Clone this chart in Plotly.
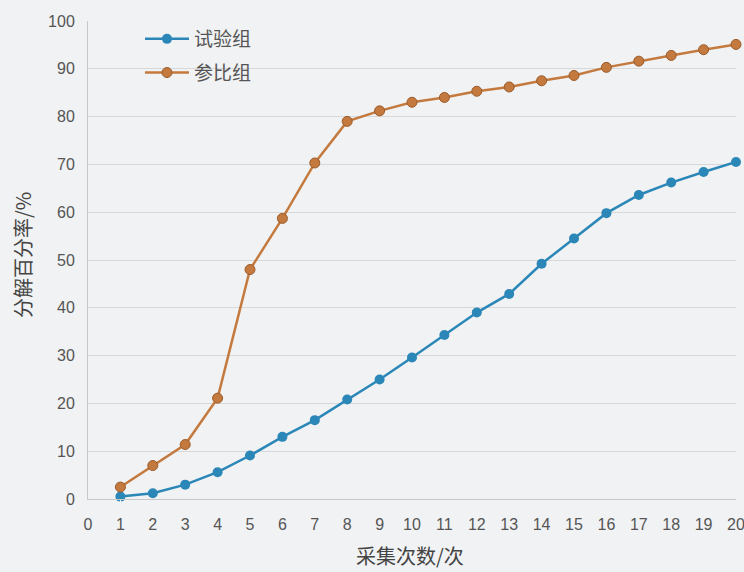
import plotly.graph_objects as go

x_vals = list(range(1, 21))
test_group = [0.5, 1.2, 3.0, 5.6, 9.1, 13.0, 16.5, 20.8, 25.0, 29.6,
              34.3, 39.0, 42.9, 49.2, 54.5, 59.8, 63.6, 66.2, 68.4, 70.5]
ref_group = [2.5, 7.0, 11.4, 21.1, 48.0, 58.7, 70.3, 79.0, 81.2, 83.0,
             84.0, 85.3, 86.2, 87.5, 88.6, 90.3, 91.6, 92.8, 94.0, 95.1]
x_ticks = list(range(0, 21))
y_ticks = list(range(0, 101, 10))

blue = "#2b87b8"
orange = "#c47a3e"
bg = "#f1f2f3"
font = "Noto Sans CJK SC"

fig = go.Figure()
fig.add_trace(go.Scatter(x=x_vals, y=test_group, name="试验组", mode="lines+markers",
                         line=dict(color=blue, width=2.5),
                         marker=dict(color=blue, size=10),
                         legendgroup="a", cliponaxis=False))
fig.add_trace(go.Scatter(x=x_vals, y=ref_group, name="参比组", mode="lines+markers",
                         line=dict(color=orange, width=2.5),
                         marker=dict(color=orange, size=10, line=dict(color="#9a5a2a", width=1)),
                         legendgroup="b", cliponaxis=False))

ml, mr, mt, mb = 88, 8, 21, 73
pw = 744 - ml - mr
ph = 572 - mt - mb

fig.update_layout(
    width=744, height=572,
    margin=dict(l=ml, r=mr, t=mt, b=mb, pad=0, autoexpand=False),
    paper_bgcolor=bg, plot_bgcolor=bg,
    font=dict(family=font, color="#555555", size=14),
    showlegend=True,
    legend=dict(x=(140 - ml) / pw, y=(572 - mb - 20) / ph, xanchor="left", yanchor="top",
                bgcolor="rgba(0,0,0,0)", font=dict(size=19, color="#555555"),
                tracegroupgap=6, traceorder="grouped", itemwidth=44),
    xaxis=dict(range=[0, 20], tickmode="array", tickvals=x_ticks,
               ticktext=[str(v) for v in x_ticks],
               showgrid=False, zeroline=False, automargin=False,
               showline=True, linecolor="#c8c8c8", linewidth=1,
               ticks="outside", ticklen=11, tickcolor=bg,
               ticklabeloverflow="allow",
               tickfont=dict(size=16, color="#555555", family="Liberation Sans")),
    yaxis=dict(range=[0, 100], tickmode="array", tickvals=y_ticks,
               showgrid=True, gridcolor="#d6d8da", gridwidth=1, zeroline=False,
               automargin=False,
               showline=True, linecolor="#c8c8c8", linewidth=1,
               ticks="outside", ticklen=9, tickcolor=bg,
               ticklabeloverflow="allow",
               tickfont=dict(size=16, color="#555555", family="Liberation Sans")),
    annotations=[
        dict(text="采集次数/次", x=(410 - ml) / pw, y=(572 - mb - 555) / ph,
             xref="paper", yref="paper", xanchor="center", yanchor="middle",
             showarrow=False, font=dict(size=20, color="#444444")),
        dict(text="分解百分率/%", x=(22 - ml) / pw, y=(572 - mb - 255) / ph,
             xref="paper", yref="paper", xanchor="center", yanchor="middle",
             showarrow=False, textangle=-90, font=dict(size=20, color="#444444")),
    ],
)

fig.write_html("out.html")
